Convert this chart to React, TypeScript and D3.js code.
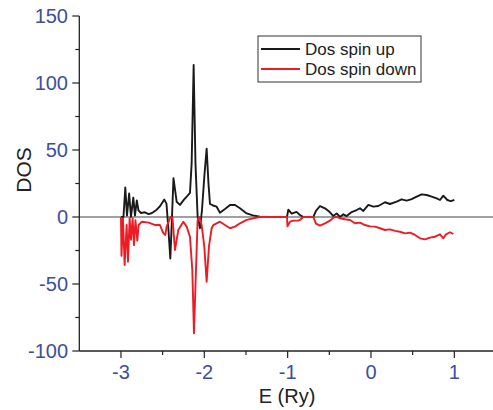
import React from "react";
import * as d3 from "d3";

const upE = [-3.0, -2.97, -2.948, -2.928, -2.902, -2.88, -2.852, -2.832, -2.81, -2.79, -2.76, -2.712, -2.668, -2.628, -2.58, -2.532, -2.48, -2.454, -2.43, -2.408, -2.394, -2.37, -2.332, -2.292, -2.244, -2.2, -2.172, -2.152, -2.128, -2.106, -2.08, -2.052, -2.028, -2.0, -1.972, -1.95, -1.932, -1.896, -1.852, -1.812, -1.752, -1.692, -1.632, -1.572, -1.492, -1.416, -1.332, -1.272, -1.008, -0.992, -0.952, -0.894, -0.852, -0.812, -0.692, -0.66, -0.612, -0.552, -0.492, -0.452, -0.412, -0.372, -0.332, -0.292, -0.232, -0.172, -0.132, -0.092, -0.032, 0.028, 0.088, 0.168, 0.228, 0.308, 0.368, 0.428, 0.488, 0.548, 0.608, 0.668, 0.728, 0.788, 0.828, 0.868, 0.916, 0.956, 1.0];
const upV = [0, 0, 22, 1, 17.5, 0, 14.5, 1, 12.4, 5, 3, 3.5, 2.2, 3, 5, 8, 13, 10, -10, -31, -10, 29, 11.4, 9, 13, 16, 18, 40, 113.4, 40, 0, -8.4, 5, 30, 51, 25, 9.7, 8.6, 7.7, 3.2, 6, 9, 9, 6.5, 2.7, 1.2, 0.3, 0, 0, 5.5, 2.5, 3.8, 1.5, 0, 0, 4.5, 8.2, 6.5, 3.5, 0.7, 2.7, 0, 2, 0.7, 3.7, 5.2, 6.5, 4.5, 9, 7.7, 8.2, 11, 9.7, 11.4, 13.2, 12.2, 13.4, 15.2, 16.9, 16.4, 15.2, 13.9, 12.7, 15.9, 12.7, 11.9, 12.7];

const downE = [-3.0, -2.994, -2.976, -2.956, -2.932, -2.916, -2.896, -2.88, -2.86, -2.844, -2.826, -2.804, -2.788, -2.748, -2.668, -2.588, -2.532, -2.508, -2.492, -2.468, -2.452, -2.428, -2.408, -2.382, -2.352, -2.312, -2.252, -2.212, -2.172, -2.144, -2.124, -2.1, -2.08, -2.06, -2.032, -2.0, -1.972, -1.944, -1.912, -1.892, -1.852, -1.812, -1.752, -1.692, -1.632, -1.572, -1.492, -1.412, -1.332, -1.008, -1.002, -0.972, -0.932, -0.872, -0.852, -0.812, -0.692, -0.66, -0.612, -0.552, -0.492, -0.452, -0.412, -0.372, -0.312, -0.252, -0.192, -0.132, -0.072, -0.012, 0.048, 0.108, 0.168, 0.228, 0.288, 0.348, 0.408, 0.468, 0.528, 0.588, 0.648, 0.708, 0.768, 0.828, 0.868, 0.9, 0.948, 0.988];
const downV = [0, -29, -1, -35.8, -6, -33.3, -1, -17, -1, -21, -2.4, -17.7, -6, -3.5, -4.2, -6, -6, -9.7, -12, -13.4, -7.2, -3.5, 0, -0.5, -24.6, -9.7, -3.5, -7.2, -14.7, -39.6, -86.8, -39.6, -2.2, 0, -6, -22, -48.3, -22, -8.4, -6, -4.7, -3.5, -6, -8.4, -7.2, -4.7, -2.2, -1, 0, 0, -7, -3.5, -2.7, -2.7, -2.2, 0, 0, -5, -6.5, -4.7, -2.7, -0.5, 0.2, -1, -1.7, -2.2, -4.7, -4.2, -6, -7, -7.2, -8.4, -9.7, -9.2, -10.4, -11, -12.2, -11.7, -13.4, -15.9, -16.7, -15.4, -14.7, -12.9, -15.9, -12.9, -11.4, -12.7];

const xTicks = [-3, -2, -1, 0, 1];
const xMinor = [-2.5, -1.5, -0.5, 0.5];
const yTicks = [-100, -50, 0, 50, 100, 150];
const yMinor = [-75, -25, 25, 75, 125];
const seriesNames = ["Dos spin up", "Dos spin down"];

const W = 493, H = 410;
const x = d3.scaleLinear().domain([-3.5, 1.5]).range([79.3, 496]);
const y = d3.scaleLinear().domain([-100, 150]).range([351, 16]);

const blue = "#3c4ea0";
const font = "'Liberation Sans', Arial, sans-serif";

export default function App() {
  const lineGen = d3.line<[number, number]>().x(d => x(d[0])).y(d => y(d[1]));
  const up = lineGen(upE.map((e, i) => [e, upV[i]]) as [number, number][]) || "";
  const down = lineGen(downE.map((e, i) => [e, downV[i]]) as [number, number][]) || "";
  const x0 = x.range()[0];
  const yb = y.range()[0];
  return (
    <svg width={W} height={H} style={{ position: "absolute", left: 0, top: 0, background: "#fff" }} fontFamily={font}>
      <line x1={x0} x2={W} y1={y(0)} y2={y(0)} stroke="#808080" strokeWidth={1.3} />
      <path d={up} fill="none" stroke="#1a1a1a" strokeWidth={1.9} strokeLinejoin="round" />
      <path d={down} fill="none" stroke="#ec1c24" strokeWidth={1.9} strokeLinejoin="round" />
      <line x1={x0} x2={x0} y1={y(150)} y2={yb} stroke="#222" strokeWidth={1.3} />
      <line x1={x0} x2={W} y1={yb} y2={yb} stroke="#222" strokeWidth={1.3} />
      {yTicks.map(t => (
        <g key={"y" + t}>
          <line x1={x0 - 7} x2={x0} y1={y(t)} y2={y(t)} stroke="#222" strokeWidth={1.2} />
          <text x={68} y={y(t)} dy="0.36em" textAnchor="end" fontSize={20} fill={blue}>{t}</text>
        </g>
      ))}
      {yMinor.map(t => (
        <line key={"ym" + t} x1={x0 - 4} x2={x0} y1={y(t)} y2={y(t)} stroke="#222" strokeWidth={1.2} />
      ))}
      {xTicks.map(t => (
        <g key={"x" + t}>
          <line x1={x(t)} x2={x(t)} y1={yb} y2={yb + 7} stroke="#222" strokeWidth={1.2} />
          <text x={x(t)} y={379} textAnchor="middle" fontSize={20} fill={blue}>{t}</text>
        </g>
      ))}
      {xMinor.map(t => (
        <line key={"xm" + t} x1={x(t)} x2={x(t)} y1={yb} y2={yb + 4} stroke="#222" strokeWidth={1.2} />
      ))}
      <text x={287} y={403} textAnchor="middle" fontSize={20} fill="#222">E (Ry)</text>
      <text transform={`translate(31,170) rotate(-90)`} textAnchor="middle" fontSize={21} fill="#222">DOS</text>
      <rect x={258} y={36} width={163} height={46} fill="#fff" stroke="#333" strokeWidth={1} />
      <line x1={261} x2={300} y1={49} y2={49} stroke="#1a1a1a" strokeWidth={1.9} />
      <line x1={261} x2={300} y1={69} y2={69} stroke="#ec1c24" strokeWidth={1.9} />
      <text x={305} y={55} fontSize={17} fill="#222">{seriesNames[0]}</text>
      <text x={305} y={75} fontSize={17} fill="#222">{seriesNames[1]}</text>
    </svg>
  );
}
